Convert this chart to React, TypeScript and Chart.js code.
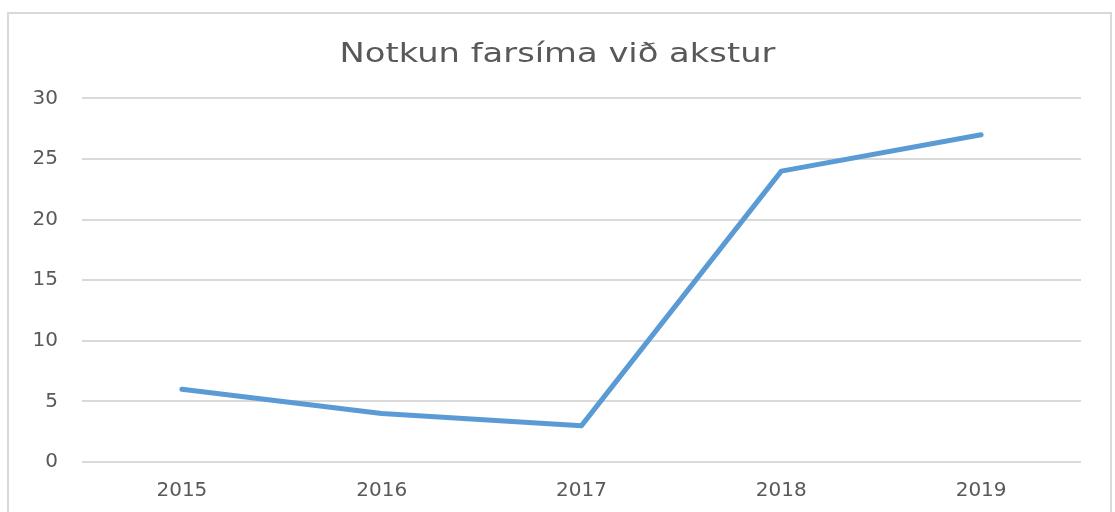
import React, { useEffect, useRef } from "react";
import { Chart, registerables } from "chart.js";

Chart.register(...registerables);

const categories = ["2015", "2016", "2017", "2018", "2019"];
const values = [6, 4, 3, 24, 27];
const yTicks = [0, 5, 10, 15, 20, 25, 30];
const title = "Notkun farsíma við akstur";

const FONT = "'DejaVu Sans', sans-serif";

const stretchedTitle = {
  id: "stretchedTitle",
  afterDraw(chart: any) {
    const ctx = chart.ctx as CanvasRenderingContext2D;
    ctx.save();
    ctx.font = `normal 27px ${FONT}`;
    ctx.fillStyle = "#595959";
    ctx.textAlign = "center";
    ctx.textBaseline = "alphabetic";
    const cx = chart.width / 2;
    ctx.translate(cx, 62);
    ctx.scale(1.25, 1);
    ctx.fillText(title, 0, 0);
    ctx.restore();
  },
};

export default function App() {
  const ref = useRef<HTMLCanvasElement | null>(null);
  useEffect(() => {
    document.body.style.margin = "0";
    const ctx = ref.current!.getContext("2d")!;
    const chart = new Chart(ctx, {
      type: "line",
      data: {
        labels: categories,
        datasets: [
          {
            data: values,
            borderColor: "#5B9BD5",
            borderWidth: 5,
            pointRadius: 0,
            tension: 0,
            borderCapStyle: "round",
            borderJoinStyle: "round",
          },
        ],
      },
      options: {
        responsive: false,
        animation: false,
        layout: { padding: { left: 0, right: 34, top: 0, bottom: 10 } },
        plugins: {
          legend: { display: false },
          tooltip: { enabled: false },
          title: {
            display: true,
            text: title,
            color: "rgba(0,0,0,0)",
            font: { family: FONT, size: 27, weight: "normal", lineHeight: 1.2 },
            padding: { top: 35, bottom: 31 },
          },
        },
        scales: {
          x: {
            offset: true,
            grid: { display: false, drawTicks: false },
            border: { display: false },
            afterFit: (s: any) => {
              s.height = 40;
            },
            ticks: {
              color: "#595959",
              font: { family: FONT, size: 20 },
              padding: 17,
              maxRotation: 0,
            },
          },
          y: {
            min: 0,
            max: 30,
            afterBuildTicks: (s: any) => {
              s.ticks = yTicks.map((v) => ({ value: v }));
            },
            afterFit: (s: any) => {
              s.width = 82;
            },
            grid: { color: "#d9d9d9", lineWidth: 2, drawTicks: false, tickLength: 0 },
            border: { display: false },
            ticks: {
              color: "#595959",
              font: { family: FONT, size: 20 },
              padding: 24,
            },
          },
        },
      },
      plugins: [stretchedTitle],
    });
    return () => chart.destroy();
  }, []);
  return (
    <div style={{ position: "relative", width: 1115, height: 512, overflow: "hidden", background: "#fff" }}>
      <div
        style={{
          position: "absolute",
          left: 7,
          top: 12,
          width: 1105,
          height: 520,
          border: "2px solid #d9d9d9",
          boxSizing: "border-box",
        }}
      />
      <canvas ref={ref} width={1115} height={512} style={{ position: "absolute", left: 0, top: 0 }} />
    </div>
  );
}
